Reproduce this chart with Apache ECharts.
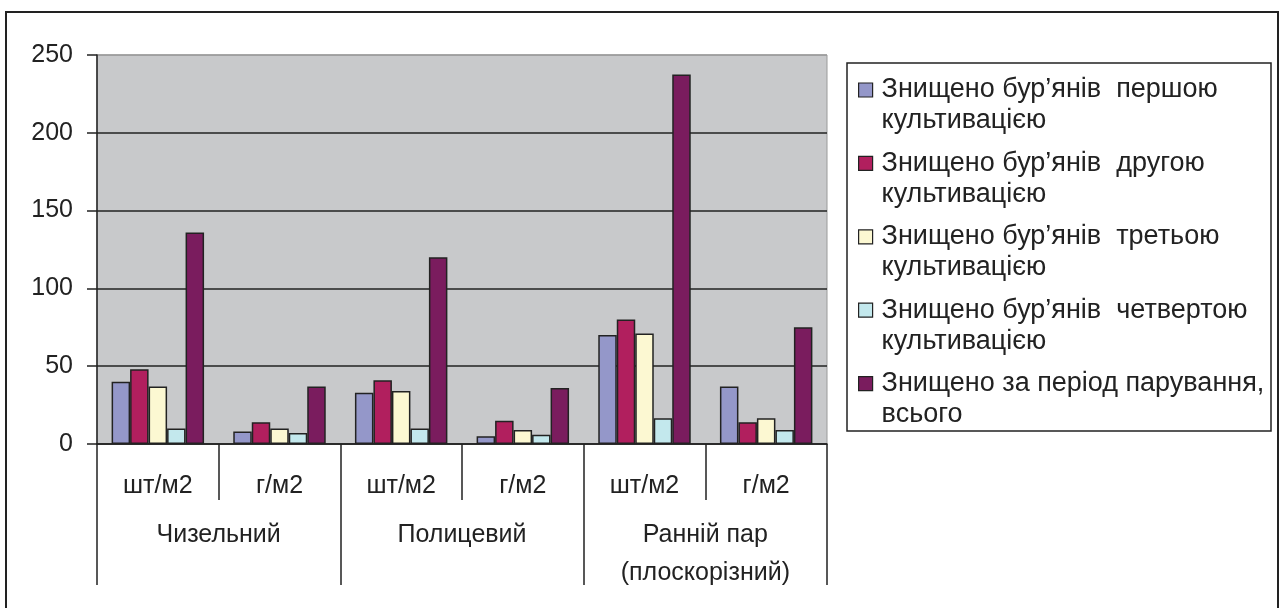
<!DOCTYPE html>
<html>
<head>
<meta charset="utf-8">
<script src="https://cdn.jsdelivr.net/npm/echarts@6/dist/echarts.min.js"></script>
<style>
	* { margin: 0; padding: 0; }
	body { background: #fff; }
</style>
</head>
<body>
<!--контейнер для графіка-->
<div id="main" style="width: 1279px;height: 608px;"></div>
<script>
	var units = ['шт/м2', 'г/м2', 'шт/м2', 'г/м2', 'шт/м2', 'г/м2'];
	var methods = ['Чизельний', 'Полицевий', 'Ранній пар\n(плоскорізний)'];
	var names = [
		'Знищено бур’янів  першою\nкультивацією',
		'Знищено бур’янів  другою\nкультивацією',
		'Знищено бур’янів  третьою\nкультивацією',
		'Знищено бур’янів  четвертою\nкультивацією',
		'Знищено за період парування,\nвсього'
	];
	var first = [40, 8, 33, 5, 70, 37];
	var second = [48, 14, 41, 15, 80, 14];
	var third = [37, 10, 34, 9, 71, 16.5];
	var fourth = [10, 7, 10, 6, 16.5, 9];
	var total = [136, 37, 120, 36, 237.5, 75];
	var colors = ['#9497c9', '#b11f5e', '#fcf8d2', '#c3e8ed', '#7a1c5e'];

	var font = "'Liberation Sans', Arial, sans-serif";
	var values = [first, second, third, fourth, total];
	var series = [];
	for (var i = 0; i < values.length; i++) {
		series.push({
			name: names[i],
			type: 'bar',
			barGap: 0,
			barCategoryGap: '24%',
			itemStyle: { color: colors[i], borderColor: '#222', borderWidth: 1.5 },
			data: values[i]
		});
	}

	var chart = echarts.init(document.getElementById('main'));
	chart.setOption({
		animation: false,
		textStyle: { fontFamily: font },
		grid: {
			left: 97, right: 452, top: 55, bottom: 164,
			show: true, backgroundColor: '#c8c9cb', borderColor: '#9a9a9a', borderWidth: 1
		},
		legend: {
			orient: 'vertical',
			left: 858,
			top: 43.5,
			padding: 0,
			itemWidth: 14,
			itemHeight: 14,
			itemGap: -19.6,
			icon: 'rect',
			itemStyle: { borderColor: '#222', borderWidth: 1.2 },
			// порожній перший рядок, щоб маркер стояв навпроти першого рядка тексту
			formatter: function (name) {
				return ' \n' + name;
			},
			textStyle: {
				fontFamily: font, fontSize: 27, color: '#222',
				lineHeight: 31, padding: [0, 0, 0, 4]
			},
			data: names
		},
		xAxis: [{
			type: 'category',
			data: units,
			axisLine: { lineStyle: { color: '#222', width: 1.5 } },
			axisTick: { show: true, length: 56, interval: 0, lineStyle: { color: '#222', width: 1.5 } },
			axisLabel: { interval: 0, fontSize: 25, color: '#222', margin: 30 }
		}, {
			type: 'category',
			data: methods,
			position: 'bottom',
			axisLine: { show: false },
			axisTick: { show: true, length: 141, interval: 0, lineStyle: { color: '#222', width: 1.5 } },
			axisLabel: { interval: 0, fontSize: 25, color: '#222', margin: 72, lineHeight: 38 }
		}],
		yAxis: {
			type: 'value',
			min: 0,
			max: 250,
			interval: 50,
			axisLine: { show: true, lineStyle: { color: '#222', width: 1.5 } },
			axisTick: { show: true, length: 10, lineStyle: { color: '#222', width: 1.5 } },
			axisLabel: { fontSize: 25, color: '#222', margin: 24 },
			splitLine: { lineStyle: { color: ['#222', '#222', '#222', '#222', '#222', '#9a9a9a'], width: 1.5 } }
		},
		graphic: [{
			type: 'rect',
			shape: { x: 6, y: 12, width: 1272, height: 620 },
			style: { fill: 'none', stroke: '#222', lineWidth: 2 }
		}, {
			type: 'rect',
			shape: { x: 847, y: 63, width: 424, height: 368 },
			style: { fill: 'none', stroke: '#222', lineWidth: 1.5 }
		}],
		series: series
	});
</script>
</body>
</html>
